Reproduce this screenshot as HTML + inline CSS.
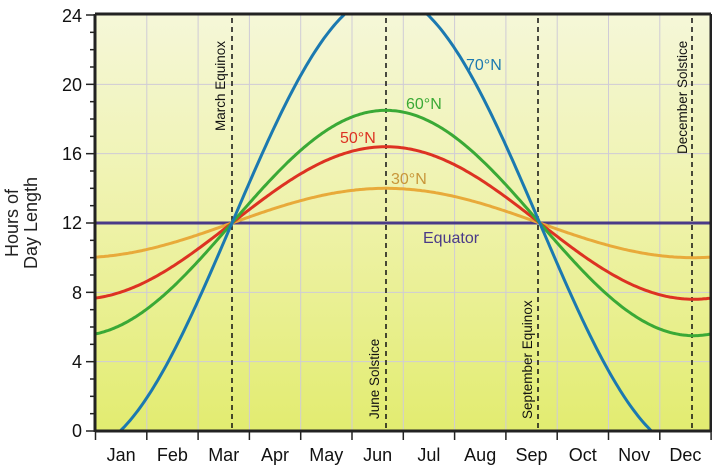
<!DOCTYPE html>
<html><head><meta charset="utf-8"><style>
body{margin:0;background:#fff;width:712px;height:467px;overflow:hidden}
svg{display:block;font-family:"Liberation Sans",sans-serif}
</style></head><body>
<svg id="s" width="712" height="467" viewBox="0 0 712 467">
<defs>
<linearGradient id="bg" x1="0" y1="0" x2="0" y2="1">
<stop offset="0" stop-color="#f5f7d8"/>
<stop offset="0.5" stop-color="#eef2a8"/>
<stop offset="1" stop-color="#e2ec70"/>
</linearGradient>
<clipPath id="c"><rect x="95" y="15" width="616" height="416"/></clipPath>
</defs>
<rect x="95" y="15" width="616" height="416" fill="url(#bg)"/>
<g id="grid" stroke="#cfcbd6" stroke-width="1"></g>
<g stroke="#111" stroke-width="1.5" stroke-dasharray="5,4">
<line x1="232" y1="18" x2="232" y2="431"/>
<line x1="386" y1="18" x2="386" y2="431"/>
<line x1="538" y1="18" x2="538" y2="431"/>
<line x1="692" y1="18" x2="692" y2="431"/>
</g>
<g clip-path="url(#c)" fill="none" stroke-width="3">
<line x1="95" y1="223" x2="711" y2="223" stroke="#4a3a88"/>
<polyline id="p30" stroke="#e8aa3a"/>
<polyline id="p50" stroke="#dd3222"/>
<polyline id="p60" stroke="#3aa936"/>
<polyline id="p70" stroke="#1b79b0"/>
</g>
<g stroke="#222" stroke-width="3" fill="none">
<line x1="95" y1="14" x2="711" y2="14"/>
<line x1="95" y1="431" x2="711" y2="431"/>
<line x1="95" y1="14" x2="95" y2="432"/>
<line x1="711" y1="14" x2="711" y2="432"/>
</g>
<g id="ticks" stroke="#222" stroke-width="1.5"></g>
<g font-size="18" fill="#111" text-anchor="end">
<text x="82" y="22">24</text><text x="82" y="91">20</text><text x="82" y="160">16</text>
<text x="82" y="229">12</text><text x="82" y="299">8</text><text x="82" y="368">4</text><text x="82" y="437">0</text>
</g>
<g id="months" font-size="18" fill="#111" text-anchor="middle"></g>
<g font-size="18" fill="#222" text-anchor="middle" transform="translate(22,223) rotate(-90)">
<text x="0" y="-4">Hours of</text><text x="0" y="15">Day Length</text>
</g>
<g font-size="13.5" fill="#111">
<text transform="translate(225,131) rotate(-90)">March Equinox</text>
<text transform="translate(379,419) rotate(-90)">June Solstice</text>
<text transform="translate(532,419) rotate(-90)">September Equinox</text>
<text transform="translate(687,154) rotate(-90)">December Solstice</text>
</g>
<g font-size="16">
<text x="466" y="70" fill="#1b79b0">70°N</text>
<text x="406" y="109" fill="#3aa936">60°N</text>
<text x="340" y="143" fill="#dd3222">50°N</text>
<text x="391" y="184" fill="#c8963a">30°N</text>
<text x="423" y="243" fill="#4a3a88">Equator</text>
</g>
</svg>
<script>
var ns="http://www.w3.org/2000/svg";
function Y(h){return 431-h*416/24;}
function mk(id,A){var pts=[];for(var x=90;x<=716;x+=2){var h=12+A*Math.sin((x-232)/615.5*2*Math.PI);h=Math.max(-1,Math.min(25,h));pts.push(x+","+Y(h).toFixed(1));}document.getElementById(id).setAttribute("points",pts.join(" "));}
mk("p30",2);mk("p50",4.4);mk("p60",6.5);mk("p70",13.2);
var g=document.getElementById("grid"),t=document.getElementById("ticks"),m=document.getElementById("months");
function ln(p,a,b,c,d){var l=document.createElementNS(ns,"line");l.setAttribute("x1",a);l.setAttribute("y1",b);l.setAttribute("x2",c);l.setAttribute("y2",d);p.appendChild(l);}
var names=["Jan","Feb","Mar","Apr","May","Jun","Jul","Aug","Sep","Oct","Nov","Dec"];
for(var i=0;i<=12;i++){var x=95.5+i*51.3;if(i>0&&i<12)ln(g,x,15,x,431);ln(t,x,431,x,440);
if(i<12){var tx=document.createElementNS(ns,"text");tx.setAttribute("x",x+25.6);tx.setAttribute("y",461);tx.textContent=names[i];m.appendChild(tx);}}
for(var h=0;h<=24;h++){var y=Y(h);if(h%4==0){if(h>0&&h<24)ln(g,95,y,711,y);ln(t,86,y,95,y);}else ln(t,90,y,95,y);}
</script>
</body></html>
